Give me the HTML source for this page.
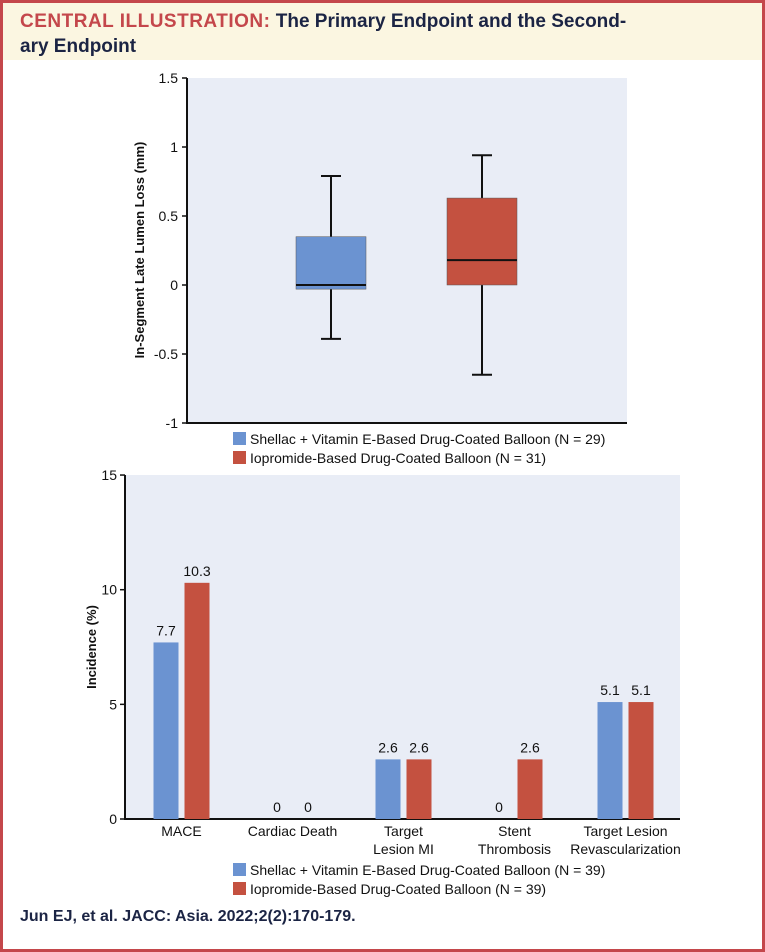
<!DOCTYPE html>
<html><head><meta charset="utf-8"><style>
body{margin:0;background:#fff;}
#wrap{position:relative;width:765px;height:952px;box-sizing:border-box;border:3px solid #c4474b;background:#fff;overflow:hidden;font-family:"Liberation Sans Narrow","Liberation Sans",sans-serif;}
#hdr{position:absolute;left:0;top:0;width:759px;height:57px;background:#fbf6e1;}
#hdr div{position:absolute;left:17px;top:6px;font-weight:bold;font-size:19px;line-height:25px;color:#1b2444;}
#hdr span{color:#c4474b;letter-spacing:0.5px;}
#foot{position:absolute;left:17px;top:905px;font-weight:bold;font-size:16px;color:#1b2444;}
svg{position:absolute;left:-3px;top:-3px;}
svg text{font-family:"Liberation Sans Narrow","Liberation Sans",sans-serif;fill:#111;}
</style></head><body>
<div id="wrap">
<div id="hdr"><div><span>CENTRAL ILLUSTRATION:</span> The Primary Endpoint and the Second-<br>ary Endpoint</div></div>
<svg id="svg" width="765" height="952"></svg>
<div id="foot">Jun EJ, et al. JACC: Asia. 2022;2(2):170-179.</div>
</div>
<script>
const boxGroups=["Shellac","Iopromide"];
const boxMin=[-0.39,-0.65];
const boxQ1=[-0.03,0.0];
const boxMed=[0.0,0.18];
const boxQ3=[0.35,0.63];
const boxMax=[0.79,0.94];
const boxTicks=[1.5,1,0.5,0,-0.5,-1];
const boxTickLabels=["1.5","1","0.5","0","-0.5","-1"];
const barCats=[["MACE"],["Cardiac Death"],["Target","Lesion MI"],["Stent","Thrombosis"],["Target Lesion","Revascularization"]];
const shellacVals=[7.7,0,2.6,0,5.1];
const iopromideVals=[10.3,0,2.6,2.6,5.1];
const barTicks=[0,5,10,15];
const BLUE="#6b93d1",RED="#c45140",BG="#e9edf6";
const svg=document.getElementById('svg');
const NS="http://www.w3.org/2000/svg";
function mk(t,a,txt){const e=document.createElementNS(NS,t);for(const k in a)e.setAttribute(k,a[k]);if(txt!==undefined)e.textContent=txt;svg.appendChild(e);return e;}
// top chart
const tY=v=>285-(v)*138;
let e=mk('rect',{x:187,y:78,width:440,height:345,fill:BG});


e=mk('line',{x1:187,y1:78,x2:187,y2:424,stroke:'#111','stroke-width':2});


e=mk('line',{x1:186,y1:423,x2:627,y2:423,stroke:'#111','stroke-width':2});


boxTicks.forEach((t,i)=>{
 mk('line',{x1:182,y1:tY(t),x2:187,y2:tY(t),stroke:'#111','stroke-width':1.5});
 e=mk('text',{x:178,y:tY(t)+5,'text-anchor':'end','font-size':14},boxTickLabels[i]);
 
 
});
e=mk('text',{x:0,y:0,'font-size':13,'font-weight':'bold','text-anchor':'middle',transform:'translate(144,250) rotate(-90)'},'In-Segment Late Lumen Loss (mm)');


const boxCenters=[331,482];
boxGroups.forEach((g,i)=>{
 const cx=boxCenters[i],col=i?RED:BLUE;
 e=mk('line',{x1:cx,y1:tY(boxMax[i]),x2:cx,y2:tY(boxMin[i]),stroke:'#111','stroke-width':2});
 
 
 mk('line',{x1:cx-10,y1:tY(boxMax[i]),x2:cx+10,y2:tY(boxMax[i]),stroke:'#111','stroke-width':2});
 mk('line',{x1:cx-10,y1:tY(boxMin[i]),x2:cx+10,y2:tY(boxMin[i]),stroke:'#111','stroke-width':2});
 e=mk('rect',{x:cx-35,y:tY(boxQ3[i]),width:70,height:tY(boxQ1[i])-tY(boxQ3[i]),fill:col,stroke:'#555','stroke-width':0.5});
 
 
 e=mk('line',{x1:cx-35,y1:tY(boxMed[i]),x2:cx+35,y2:tY(boxMed[i]),stroke:'#111','stroke-width':2});
 
 
});
function legend(y,n1,n2){
 e=mk('rect',{x:233,y:y,width:13,height:13,fill:BLUE});
 
 
 e=mk('text',{x:250,y:y+12,'font-size':14},'Shellac + Vitamin E-Based Drug-Coated Balloon (N = '+n1+')');
 
 
 e=mk('rect',{x:233,y:y+19,width:13,height:13,fill:RED});
 
 
 e=mk('text',{x:250,y:y+31,'font-size':14},'Iopromide-Based Drug-Coated Balloon (N = '+n2+')');
 
 
}
legend(432,29,31);
// bottom chart
const bY=v=>819-v*22.93;
e=mk('rect',{x:125,y:475,width:555,height:344,fill:BG});


e=mk('line',{x1:125,y1:475,x2:125,y2:820,stroke:'#111','stroke-width':2});


e=mk('line',{x1:124,y1:819,x2:680,y2:819,stroke:'#111','stroke-width':2});


barTicks.forEach(t=>{
 mk('line',{x1:120,y1:bY(t),x2:125,y2:bY(t),stroke:'#111','stroke-width':1.5});
 e=mk('text',{x:117,y:bY(t)+5,'text-anchor':'end','font-size':14},String(t));
 
 
});
e=mk('text',{x:0,y:0,'font-size':13,'font-weight':'bold','text-anchor':'middle',transform:'translate(96,647) rotate(-90)'},'Incidence (%)');


const band=111,x0=126;
barCats.forEach((c,i)=>{
 const cx=x0+band*(i+0.5);
 [[shellacVals,BLUE,-28,'shellac'],[iopromideVals,RED,3,'iopromide']].forEach(([vals,col,off,nm])=>{
  const v=vals[i];
  if(v>0){
   e=mk('rect',{x:cx+off,y:bY(v),width:25,height:bY(0)-bY(v),fill:col});
   
   
  }
  e=mk('text',{x:cx+off+12.5,y:bY(v)-7,'text-anchor':'middle','font-size':14},String(v));
  
  
 });
 c.forEach((l,j)=>{
  e=mk('text',{x:cx,y:836+j*18,'text-anchor':'middle','font-size':14},l);
  
  
 });
});
legend(863,39,39);
</script>
</body></html>
